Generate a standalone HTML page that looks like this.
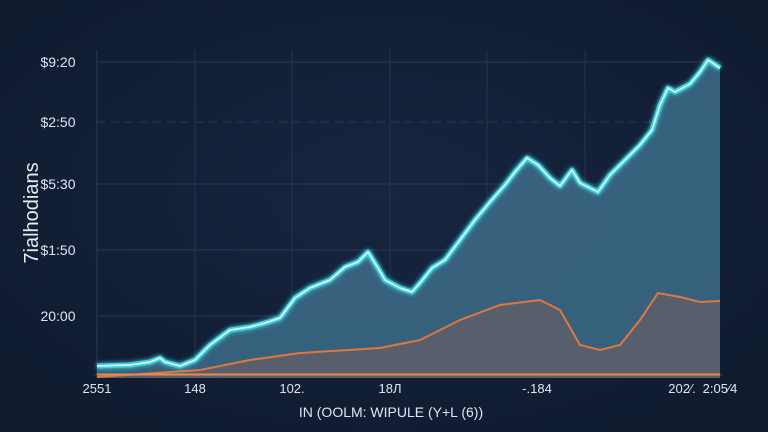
<!DOCTYPE html>
<html><head><meta charset="utf-8"><style>
html,body{margin:0;padding:0;background:#111c31;}
svg{display:block;font-family:"Liberation Sans",sans-serif;}
</style></head><body>
<svg id="chart" width="768" height="432" viewBox="0 0 768 432">
<defs>
<radialGradient id="bg" cx="50%" cy="45%" r="70%"><stop offset="0" stop-color="#172540"/><stop offset="1" stop-color="#0f1a2e"/></radialGradient>
<filter id="glow" x="-10%" y="-10%" width="120%" height="120%"><feGaussianBlur stdDeviation="2.5" result="b"/><feMerge><feMergeNode in="b"/><feMergeNode in="SourceGraphic"/></feMerge></filter>
</defs>
<rect width="768" height="432" fill="url(#bg)"/>
<g id="grid"></g>
<g id="marks"></g>
<g id="axes"></g>
<text x="0" y="0" transform="translate(38,213) rotate(-90)" text-anchor="middle" fill="#e6ecf5" font-size="20">7ialhodians</text>
<text x="391" y="417" text-anchor="middle" fill="#dfe6f0" font-size="14">IN (OOLM: WIPULE (Y+L (6))</text>
</svg>
<script>
const days=[0,33,53,63,68,83,98,113,133,153,168,183,198,213,233,248,261,271,281,288,303,315,323,335,348,363,378,393,408,418,430,441,453,463,475,483,493,501,513,528,543,555,563,571,578,593,603,611,623];
const priceA=[12,13,16,20,16,12,18,33,48,51,55,60,80,90,98,111,116,126,110,98,90,86,95,110,118,138,158,176,193,206,220,213,200,192,208,195,190,186,203,218,233,248,273,290,286,294,306,318,310];
const daysB=[0,103,153,203,283,323,363,403,443,463,483,503,523,543,561,583,603,623];
const priceB=[1,8,18,25,30,38,58,73,78,68,33,28,33,58,85,81,76,77];
const baseC=[3,3,4,3,3,4,3,3,3,4,3];
const yTicks=[62,128,194,256,316];
const yLabels=["20:00","$1:50","$5:30","$2:50","$9:20"];
const xTicks=[0,98,195,293,440,585,623];
const xLabels=["2551","148","102.","18Л","-.184","202⁄.","2:05⁄4"];
const X=v=>97+v, Y=v=>378-v;
const NS="http://www.w3.org/2000/svg";
function mk(t,a,p){const e=document.createElementNS(NS,t);for(const k in a)e.setAttribute(k,a[k]);p.appendChild(e);return e;}
const grid=document.getElementById('grid'),marks=document.getElementById('marks'),axes=document.getElementById('axes');
yTicks.forEach((v,i)=>{const l=mk('line',{x1:97,x2:720,y1:Y(v),y2:Y(v),stroke:'#2a3a57','stroke-width':1,'stroke-dasharray':i==3?'8 6':''},grid);

const t=mk('text',{x:58,y:Y(v)+5,'text-anchor':'middle',fill:'#dfe6f0','font-size':14},axes);t.textContent=yLabels[i];
});
[98,195,293,390,488].forEach(v=>{const l=mk('line',{x1:X(v),x2:X(v),y1:50,y2:378,stroke:'#24334f','stroke-width':1},grid);
});
mk('line',{x1:97,x2:97,y1:50,y2:378,stroke:'#2a3a57'},grid);
xTicks.forEach((v,i)=>{const t=mk('text',{x:X(v),y:393,'text-anchor':'middle',fill:'#dfe6f0','font-size':13},axes);t.textContent=xLabels[i];
});
const ptsA=days.map((d,i)=>X(d)+','+Y(priceA[i])).join(' ');
const ptsB=daysB.map((d,i)=>X(d)+','+Y(priceB[i])).join(' ');
let a=mk('polygon',{points:ptsA+' '+X(days[days.length-1])+','+Y(0)+' '+X(0)+','+Y(0),fill:'#3b6884','fill-opacity':0.9},marks);

let b=mk('polygon',{points:ptsB+' '+X(daysB[daysB.length-1])+','+Y(0)+' '+X(0)+','+Y(0),fill:'#5a5f6a','fill-opacity':0.92},marks);

let bl=mk('polyline',{points:ptsB,fill:'none',stroke:'#e0773f','stroke-width':2},marks);

const cx=baseC.map((v,i)=>X(i*623/(baseC.length-1))+','+Y(v)).join(' ');
let cl=mk('polyline',{points:cx,fill:'none',stroke:'#f0884a','stroke-width':4,filter:'url(#glow)'},marks);

let al=mk('polyline',{points:ptsA,fill:'none',stroke:'#3fd3df','stroke-width':5,filter:'url(#glow)','stroke-linejoin':'round'},marks);

let al2=mk('polyline',{points:ptsA,fill:'none',stroke:'#e8fbff','stroke-width':1.5,'stroke-linejoin':'round'},marks);

</script>
</body></html>
